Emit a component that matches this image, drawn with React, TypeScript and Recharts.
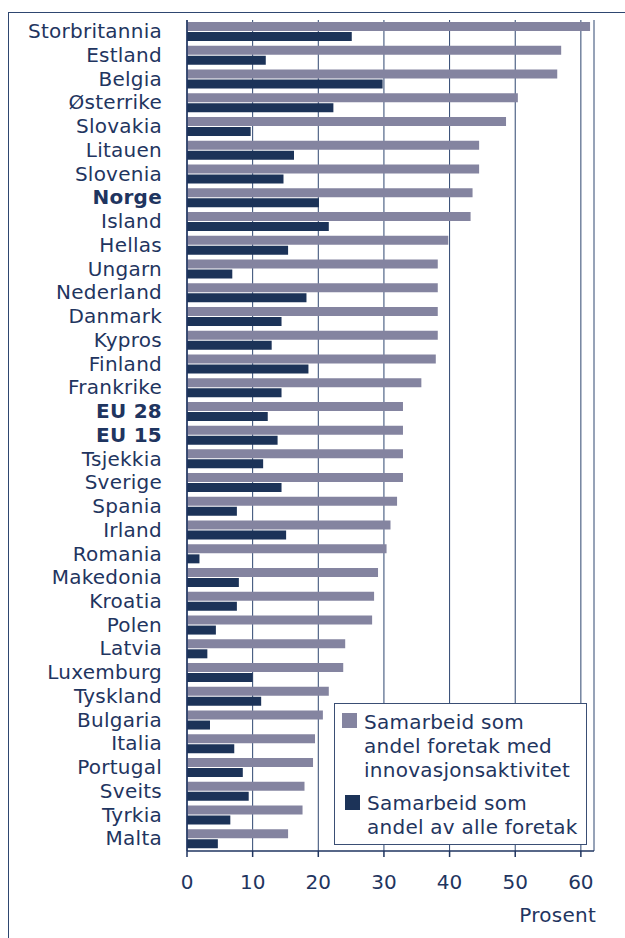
import { BarChart, Bar, XAxis, YAxis, CartesianGrid, Legend, Label } from 'recharts';

const countries = [
  'Storbritannia', 'Estland', 'Belgia', 'Østerrike', 'Slovakia', 'Litauen', 'Slovenia',
  'Norge', 'Island', 'Hellas', 'Ungarn', 'Nederland', 'Danmark', 'Kypros',
  'Finland', 'Frankrike', 'EU 28', 'EU 15', 'Tsjekkia', 'Sverige', 'Spania',
  'Irland', 'Romania', 'Makedonia', 'Kroatia', 'Polen', 'Latvia', 'Luxemburg',
  'Tyskland', 'Bulgaria', 'Italia', 'Portugal', 'Sveits', 'Tyrkia', 'Malta',
];

// Samarbeid som andel foretak med innovasjonsaktivitet
const innovative = [
  61.4, 57.0, 56.4, 50.4, 48.6, 44.5, 44.5,
  43.5, 43.2, 39.8, 38.2, 38.2, 38.2, 38.2,
  37.9, 35.7, 32.9, 32.9, 32.9, 32.9, 32.0,
  31.0, 30.4, 29.1, 28.5, 28.2, 24.1, 23.8,
  21.6, 20.7, 19.5, 19.2, 17.9, 17.6, 15.4,
];

// Samarbeid som andel av alle foretak
const allFirms = [
  25.1, 12.0, 29.8, 22.3, 9.7, 16.3, 14.7,
  20.1, 21.6, 15.4, 6.9, 18.2, 14.4, 12.9,
  18.5, 14.4, 12.3, 13.8, 11.6, 14.4, 7.6,
  15.1, 1.9, 7.9, 7.6, 4.4, 3.1, 10.0,
  11.3, 3.5, 7.2, 8.5, 9.4, 6.6, 4.7,
];

const xTicks = [0, 10, 20, 30, 40, 50, 60];
const boldNames = ['Norge', 'EU 28', 'EU 15'];

const NAVY = '#1f3560';
const LIGHT = '#8484a0';
const DARK = '#1c3358';
const GRID = '#2e4670';
const FONT = '"DejaVu Sans", Verdana, sans-serif';

const data = countries.map((name, i) => ({
  name,
  innovative: innovative[i],
  all: allFirms[i],
}));

// eslint-disable-next-line @typescript-eslint/no-explicit-any
function CountryTick(props: any) {
  const { x, y, payload } = props;
  const bold = boldNames.includes(payload.value);
  return (
    <text
      x={x}
      y={y}
      dy={6.3}
      textAnchor="end"
      fontSize={20}
      fontFamily={FONT}
      fontWeight={bold ? 700 : 400}
      fill={NAVY}
      style={{ letterSpacing: 0.25 }}
    >
      {payload.value}
    </text>
  );
}

// eslint-disable-next-line @typescript-eslint/no-explicit-any
function ProsentLabel(props: any) {
  const vb = props.viewBox || {};
  return (
    <text
      x={vb.x + vb.width + 2}
      y={vb.y + 71}
      textAnchor="end"
      fontSize={20}
      fontFamily={FONT}
      fill={NAVY}
      style={{ letterSpacing: 0.25 }}
    >
      Prosent
    </text>
  );
}

const lineStyle = { position: 'absolute' as const, whiteSpace: 'nowrap' as const, lineHeight: '24px' };

function LegendBox() {
  return (
    <div
      style={{
        position: 'relative',
        width: 253,
        height: 142,
        boxSizing: 'border-box',
        border: '1px solid #3a4e74',
        background: '#fff',
        fontFamily: FONT,
        fontSize: 20,
        color: NAVY,
        letterSpacing: 0.25,
      }}
    >
      <div style={{ position: 'absolute', left: 7, top: 9, width: 15, height: 15, background: LIGHT }} />
      <div style={{ ...lineStyle, left: 29, top: 6 }}>
        Samarbeid som
        <br />
        andel foretak med
        <br />
        innovasjonsaktivitet
      </div>
      <div style={{ position: 'absolute', left: 10, top: 91, width: 15, height: 15, background: DARK }} />
      <div style={{ ...lineStyle, left: 32, top: 87 }}>
        Samarbeid som
        <br />
        andel av alle foretak
      </div>
    </div>
  );
}

export default function App() {
  return (
    <div style={{ position: 'absolute', left: 0, top: 0, width: 625, height: 938, background: '#fff' }}>
      <div
        style={{
          position: 'absolute',
          left: 8,
          top: 12,
          width: 617,
          height: 926,
          borderTop: `1px solid ${GRID}`,
          borderLeft: `1px solid ${GRID}`,
        }}
      />
      <div style={{ position: 'absolute', left: 0, top: 0 }}>
        <BarChart
          width={625}
          height={938}
          data={data}
          layout="vertical"
          margin={{ top: 20, right: 31, bottom: 0, left: 0 }}
          barSize={9}
          barGap={1}
        >
          <CartesianGrid horizontal={false} stroke={GRID} strokeWidth={1} />
          <XAxis
            type="number"
            domain={[0, 62]}
            ticks={xTicks}
            interval={0}
            height={87}
            tickSize={6}
            tickMargin={18}
            axisLine={{ stroke: NAVY, strokeWidth: 1.5 }}
            tickLine={{ stroke: NAVY, strokeWidth: 1.5 }}
            tick={{ fontSize: 20, fill: NAVY, fontFamily: FONT }}
          >
            <Label content={<ProsentLabel />} />
          </XAxis>
          <XAxis
            xAxisId="top"
            orientation="top"
            type="number"
            domain={[0, 62]}
            height={0}
            tick={false}
            tickLine={false}
            axisLine={{ stroke: '#6b7a95' }}
          />
          <YAxis
            type="category"
            dataKey="name"
            width={187}
            interval={0}
            tickSize={0}
            tickMargin={25}
            tickLine={false}
            axisLine={{ stroke: NAVY, strokeWidth: 1.5 }}
            tick={<CountryTick />}
          />
          <YAxis
            yAxisId="right"
            orientation="right"
            type="category"
            dataKey="name"
            width={0}
            tick={false}
            tickLine={false}
            axisLine={{ stroke: '#3a4e74', strokeWidth: 1.5 }}
          />
          <Legend
            layout="vertical"
            align="center"
            verticalAlign="middle"
            wrapperStyle={{ position: 'absolute', left: 334, top: 703, width: 253, height: 142 }}
            content={<LegendBox />}
          />
          <Bar dataKey="innovative" name="Samarbeid som andel foretak med innovasjonsaktivitet" fill={LIGHT} isAnimationActive={false} />
          <Bar dataKey="all" name="Samarbeid som andel av alle foretak" fill={DARK} isAnimationActive={false} />
        </BarChart>
      </div>
    </div>
  );
}
